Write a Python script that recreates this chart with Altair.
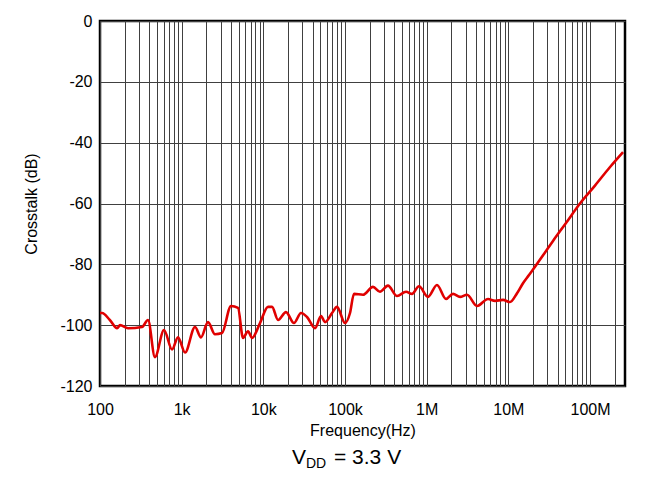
import altair as alt
import pandas as pd

freq_hz = [100, 106, 132, 162, 176, 220, 327, 387, 471, 608, 762, 902, 1100, 1456, 1726,
           2100, 2560, 3118, 4018, 4896, 5640, 6490, 7265, 9100, 11400, 12770, 15130, 18940,
           23720, 28910, 34260, 42950, 50820, 56900, 69340, 79800, 100000, 115100, 128800,
           166000, 220100, 267900, 335800, 433300, 558500, 661000, 805200, 1037000, 1337000,
           1725000, 2100000, 2560000, 3117000, 4130000, 5634000, 6870000, 8600000, 10470000,
           12770000, 15110000, 17900000, 21200000, 27300000, 35200000, 50800000, 75300000,
           115000000, 175800000, 253600000]
crosstalk_db = [-96, -96, -98.3, -101, -100, -101, -100.6, -98.3, -110.5, -101.6, -108, -104,
                -109, -100.6, -104, -99, -103, -102.6, -93.7, -94.3, -104.2, -102, -104.2, -99.3,
                -94, -94, -98.3, -95.7, -99.3, -96, -97.3, -101, -97, -99, -96, -94, -99.3, -96,
                -89.7, -90, -87.4, -89, -87, -90.4, -89, -89.7, -87.2, -90.7, -86.8, -91.4, -89.7,
                -90.7, -90, -93.7, -91.4, -92, -91.7, -92.4, -89.5, -86.2, -83.5, -80.8, -76.6,
                -72.3, -66.4, -60, -54.1, -48, -43.1]

x_ticks = [v * m for v in [100, 1000, 10000, 100000, 1000000, 10000000, 100000000]
           for m in range(1, 10) if v * m <= 2.68e8]
y_ticks = [0, -20, -40, -60, -80, -100, -120]

df = pd.DataFrame({"f": freq_hz, "db": crosstalk_db})

label_expr = ("datum.value == 100 ? '100' : datum.value == 1000 ? '1k' : "
              "datum.value == 10000 ? '10k' : datum.value == 100000 ? '100k' : "
              "datum.value == 1000000 ? '1M' : datum.value == 10000000 ? '10M' : "
              "datum.value == 100000000 ? '100M' : ''")

FONT = "Liberation Sans"

line = alt.Chart(df).mark_line(color="#e00000", strokeWidth=2.6, interpolate="monotone").encode(
    x=alt.X("f:Q", scale=alt.Scale(type="log", domain=[100, 2.68e8], nice=False),
            axis=alt.Axis(values=x_ticks, labelExpr=label_expr, title="Frequency(Hz)",
                          grid=True, gridColor="#404040", gridWidth=1, gridOpacity=1,
                          tickSize=0, domain=False, labelPadding=15, titlePadding=5,
                          labelFontSize=16, titleFontSize=16, labelFont=FONT, titleFont=FONT,
                          labelColor="black", titleColor="black", titleFontWeight="normal",
                          labelFlush=False, labelOverlap=False)),
    y=alt.Y("db:Q", scale=alt.Scale(domain=[-120, 0], nice=False),
            axis=alt.Axis(values=y_ticks, labelExpr="toString(datum.value)",
                          title="Crosstalk (dB)", grid=True,
                          gridColor="#404040", gridWidth=1, gridOpacity=1,
                          tickSize=0, domain=False, labelPadding=8, titlePadding=20,
                          labelFontSize=16, titleFontSize=16, labelFont=FONT, titleFont=FONT,
                          labelColor="black", titleColor="black", titleFontWeight="normal",
                          labelFlush=False)),
)

v_txt = alt.Chart(df.head(1)).mark_text(text="V", fontSize=21, font=FONT, align="left",
                                         baseline="alphabetic", color="black").encode(
    x=alt.value(192), y=alt.value(443))
dd_txt = alt.Chart(df.head(1)).mark_text(text="DD", fontSize=14, font=FONT, align="left",
                                          baseline="alphabetic", color="black").encode(
    x=alt.value(206), y=alt.value(447))
eq_txt = alt.Chart(df.head(1)).mark_text(text="= 3.3 V", fontSize=21, font=FONT, align="left",
                                          baseline="alphabetic", color="black").encode(
    x=alt.value(234), y=alt.value(443))

chart = alt.layer(line, v_txt, dd_txt, eq_txt).properties(
    width=525, height=365,
    autosize=alt.AutoSizeParams(type="none"),
    padding={"left": 92, "top": 13, "right": 25, "bottom": 86},
).configure_view(stroke="black", strokeWidth=2.5)

chart.save("out.html", embed_options={"renderer": "svg", "actions": False})
